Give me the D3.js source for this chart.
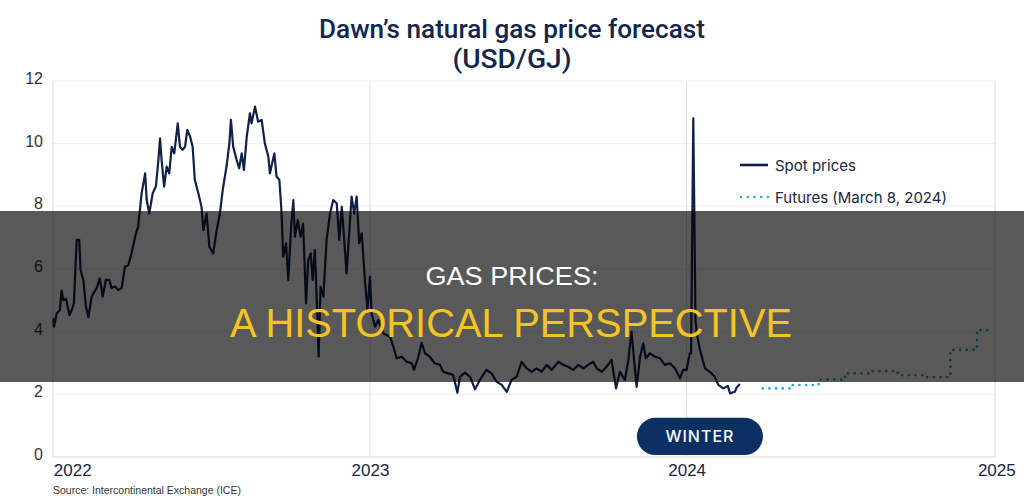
<!DOCTYPE html>
<html>
<head>
<meta charset="utf-8">
<style>
  body { margin: 0; background: #fff; }
  svg { display: block; }
  .title { font-family: Roboto, sans-serif; font-weight: 500; font-size: 25px; fill: #14264b; }
  .y .tick text { font-family: 'Liberation Sans', Arial, sans-serif; font-size: 16px; fill: #333; }
  .x .tick text { font-family: 'Liberation Sans', Arial, sans-serif; font-size: 17px; fill: #1a2540; }
  .legend { font-family: Inter, sans-serif; font-size: 15px; fill: #1a2540; }
  .source { font-family: 'Liberation Sans', Arial, sans-serif; font-size: 10.5px; fill: #333; }
  .pill-text { font-family: Inter, sans-serif; font-weight: 500; font-size: 16px; fill: #fff; letter-spacing: 1px; }
  .banner-top { font-family: 'Liberation Sans', Arial, sans-serif; font-size: 26px; fill: #fff; }
  .banner-main { font-family: 'Liberation Sans', Arial, sans-serif; font-size: 40px; fill: #f6c324; }
</style>
</head>
<body>
<svg width="1024" height="503"></svg>
<script src="https://d3js.org/d3.v7.min.js"></script>
<script>
// spot prices, decimal years
const spotYears = [
  2022.000,2022.002,2022.011,2022.021,2022.026,2022.032,2022.040,2022.051,2022.058,2022.065,
  2022.074,2022.082,2022.086,2022.095,2022.103,2022.111,2022.121,2022.137,2022.147,2022.156,
  2022.166,2022.177,2022.184,2022.195,2022.205,2022.216,2022.226,2022.237,2022.247,2022.261,
  2022.268,2022.279,2022.290,2022.295,2022.303,2022.314,2022.324,2022.332,2022.337,2022.342,
  2022.350,2022.358,2022.366,2022.374,2022.382,2022.393,2022.400,2022.408,2022.416,2022.423,
  2022.432,2022.440,2022.447,2022.458,2022.468,2022.474,2022.484,2022.493,2022.505,2022.516,
  2022.526,2022.535,2022.547,2022.556,2022.561,2022.568,2022.579,2022.587,2022.595,2022.602,
  2022.611,2022.621,2022.626,2022.637,2022.647,2022.658,2022.668,2022.679,2022.684,2022.698,
  2022.705,2022.714,2022.721,2022.726,2022.735,2022.742,2022.751,2022.758,2022.763,2022.772,
  2022.781,2022.789,2022.798,2022.805,2022.813,2022.819,2022.826,2022.832,2022.838,2022.844,
  2022.853,2022.863,2022.874,2022.884,2022.895,2022.903,2022.911,2022.918,2022.926,2022.935,
  2022.942,2022.950,2022.958,2022.966,2022.974,2022.984,2022.992,2023.000,2023.005,2023.016,
  2023.026,2023.042,2023.063,2023.074,2023.084,2023.100,2023.116,2023.132,2023.139,2023.153,
  2023.163,2023.174,2023.189,2023.205,2023.221,2023.231,2023.247,2023.263,2023.276,2023.284,
  2023.300,2023.316,2023.332,2023.347,2023.368,2023.384,2023.400,2023.416,2023.432,2023.447,
  2023.463,2023.479,2023.495,2023.511,2023.526,2023.542,2023.558,2023.574,2023.595,2023.610,
  2023.626,2023.642,2023.658,2023.674,2023.689,2023.705,2023.716,2023.732,2023.747,2023.763,
  2023.777,2023.789,2023.805,2023.816,2023.826,2023.834,2023.842,2023.853,2023.863,2023.871,
  2023.884,2023.900,2023.916,2023.931,2023.947,2023.963,2023.979,2023.989,2024.000,2024.010,
  2024.014,2024.021,2024.028,2024.032,2024.042,2024.058,2024.073,2024.089,2024.100,2024.116,
  2024.130,2024.137,2024.152,2024.158,2024.168
];
const spotPrices = [
  4.43,4.16,4.59,4.69,5.31,5.00,5.05,4.53,4.69,4.90,
  6.93,6.93,5.97,5.65,4.80,4.46,5.12,5.39,5.70,5.12,
  5.65,5.65,5.39,5.44,5.33,5.39,6.07,6.12,6.50,7.14,
  7.35,8.42,9.05,8.20,7.77,8.42,8.63,9.48,10.17,9.48,
  8.63,9.27,9.05,9.90,9.69,10.65,9.90,9.80,9.90,10.44,
  10.23,9.90,8.84,8.42,7.99,7.24,7.77,6.71,6.50,7.24,
  7.77,8.52,9.27,10.01,10.76,9.90,9.48,9.21,9.69,9.16,
  10.23,10.97,10.65,11.18,10.70,10.76,10.01,9.59,9.05,9.69,
  8.95,8.84,7.77,6.39,6.82,5.65,7.35,8.20,7.03,7.56,
  7.03,7.45,4.90,6.28,6.50,5.65,6.60,5.00,3.20,5.44,
  5.12,6.93,7.77,8.20,8.10,6.93,7.99,7.03,5.86,7.24,
  8.31,7.77,8.31,6.82,7.14,5.65,4.69,5.76,4.59,4.16,
  4.37,3.95,3.84,3.52,3.15,3.20,3.04,2.99,2.78,3.20,
  3.65,3.31,3.20,2.99,2.94,2.72,2.67,2.62,2.05,2.56,
  2.69,2.56,2.16,2.46,2.78,2.67,2.40,2.30,2.08,2.46,
  2.56,3.04,2.83,2.72,2.83,2.72,2.94,2.78,3.04,2.94,
  2.88,2.78,2.94,2.83,2.94,3.04,2.83,2.72,2.88,3.10,
  2.19,2.72,2.46,3.10,4.00,3.10,2.24,3.20,3.63,3.15,
  3.31,3.20,3.15,2.94,2.99,2.83,2.51,2.78,2.78,3.31,
  3.31,10.81,4.37,3.95,3.42,2.83,2.72,2.56,2.30,2.19,
  2.27,2.03,2.08,2.22,2.33
];

// futures (March 8, 2024), monthly contracts
const futureYears = [2024.24, 2024.333, 2024.417, 2024.5, 2024.583, 2024.667, 2024.75, 2024.833, 2024.917, 2024.97];
const futurePrices = [2.19, 2.30, 2.47, 2.67, 2.74, 2.61, 2.55, 3.42, 4.05, 4.05];

const yTicks = [0, 2, 4, 6, 8, 10, 12];
const xTicks = [2022, 2023, 2024, 2025];
const xTickLabels = ["2022", "2023", "2024", "2025"];
const winterSpan = [2023.843, 2024.241];

const svg = d3.select("svg");
const plotLeft = 53, plotRight = 995, plotTop = 81, plotBottom = 457;

const x = d3.scaleLinear().domain([2022, 2025]).range([53.3, 1003.3]);
const y = d3.scaleLinear().domain([0, 12]).range([plotBottom, plotTop]);

// horizontal grid
svg.append("g")
  .selectAll("line")
  .data(yTicks.filter(d => d > 0))
  .join("line")
  .attr("x1", plotLeft).attr("x2", plotRight)
  .attr("y1", d => y(d)).attr("y2", d => y(d))
  .attr("stroke", "#efefef");

// vertical year lines
svg.append("g")
  .selectAll("line")
  .data(xTicks.slice(1, 3))
  .join("line")
  .attr("x1", d => x(d)).attr("x2", d => x(d))
  .attr("y1", y(12)).attr("y2", y(0))
  .attr("stroke", "#dcdcdc");

// frame
svg.append("path")
  .attr("d", `M${plotLeft},${plotTop}V${plotBottom}H${plotRight}V${plotTop}`)
  .attr("fill", "none")
  .attr("stroke", "#d8d8d8");

svg.append("g")
  .attr("class", "y axis")
  .attr("transform", `translate(${plotLeft},0)`)
  .call(d3.axisLeft(y).tickValues(yTicks).tickSize(0).tickPadding(10))
  .call(g => g.select(".domain").remove())
  .call(g => g.selectAll(".tick text").attr("dy", "0.15em"));

svg.append("g")
  .attr("class", "x axis")
  .attr("transform", `translate(0,${plotBottom})`)
  .call(d3.axisBottom(x).tickValues(xTicks).tickSize(0).tickPadding(7)
    .tickFormat((d, i) => xTickLabels[i]))
  .call(g => g.select(".domain").remove())
  .call(g => g.selectAll(".tick text")
    .attr("text-anchor", (d, i) => i === 0 ? "start" : "middle")
    .attr("dx", (d, i) => i === xTicks.length - 1 ? -7 : 0));

const spotLine = d3.line()
  .x((d, i) => x(spotYears[i]))
  .y(d => y(d));

svg.append("path")
  .datum(spotPrices)
  .attr("fill", "none")
  .attr("stroke", "#0f2147")
  .attr("stroke-width", 2.2)
  .attr("stroke-linejoin", "round")
  .attr("d", spotLine);

const futLine = d3.line()
  .x((d, i) => x(futureYears[i]))
  .y(d => y(d))
  .curve(d3.curveStepAfter);

svg.append("path")
  .datum(futurePrices)
  .attr("fill", "none")
  .attr("stroke", "#27a8c4")
  .attr("stroke-width", 2.6)
  .attr("stroke-linecap", "round")
  .attr("stroke-dasharray", "0.1 6.6")
  .attr("d", futLine);

// legend
const lg = svg.append("g").attr("transform", "translate(740,165)");
lg.append("line").attr("x1", 0).attr("x2", 28).attr("y1", 0).attr("y2", 0)
  .attr("stroke", "#0f2147").attr("stroke-width", 2.6);
lg.append("text").attr("class", "legend").attr("x", 35).attr("y", 5.5).text("Spot prices");
lg.append("line").attr("x1", 1).attr("x2", 28).attr("y1", 32).attr("y2", 32)
  .attr("stroke", "#27a8c4").attr("stroke-width", 2.4)
  .attr("stroke-linecap", "round").attr("stroke-dasharray", "0.1 6.6");
lg.append("text").attr("class", "legend").attr("x", 35).attr("y", 37.5).text("Futures (March 8, 2024)");

// title
svg.append("text").attr("class", "title")
  .attr("x", 512).attr("y", 38).attr("text-anchor", "middle")
  .attr("textLength", 386).attr("lengthAdjust", "spacingAndGlyphs")
  .text("Dawn\u2019s natural gas price forecast");
svg.append("text").attr("class", "title")
  .attr("x", 512).attr("y", 68).attr("text-anchor", "middle")
  .attr("textLength", 119).attr("lengthAdjust", "spacingAndGlyphs")
  .text("(USD/GJ)");

// winter pill
const px0 = x(winterSpan[0]), px1 = x(winterSpan[1]);
const pyTop = y(1.25), pyBot = y(0.06);
svg.append("rect")
  .attr("x", px0).attr("y", pyTop)
  .attr("width", px1 - px0).attr("height", pyBot - pyTop)
  .attr("rx", (pyBot - pyTop) / 2)
  .attr("fill", "#0b3162");
svg.append("text").attr("class", "pill-text")
  .attr("x", (px0 + px1) / 2).attr("y", (pyTop + pyBot) / 2 + 6)
  .attr("text-anchor", "middle")
  .text("WINTER");

// source
svg.append("text").attr("class", "source")
  .attr("x", plotLeft).attr("y", 494)
  .text("Source: Intercontinental Exchange (ICE)");

// overlay banner
svg.append("rect")
  .attr("x", 0).attr("y", 211).attr("width", 1024).attr("height", 171)
  .attr("fill", "rgba(0,0,0,0.65)");
svg.append("text").attr("class", "banner-top")
  .attr("x", 512).attr("y", 285).attr("text-anchor", "middle")
  .attr("textLength", 173).attr("lengthAdjust", "spacingAndGlyphs")
  .text("GAS PRICES:");
svg.append("text").attr("class", "banner-main")
  .attr("x", 511).attr("y", 337).attr("text-anchor", "middle")
  .attr("textLength", 562).attr("lengthAdjust", "spacingAndGlyphs")
  .text("A HISTORICAL PERSPECTIVE");
</script>
</body>
</html>
